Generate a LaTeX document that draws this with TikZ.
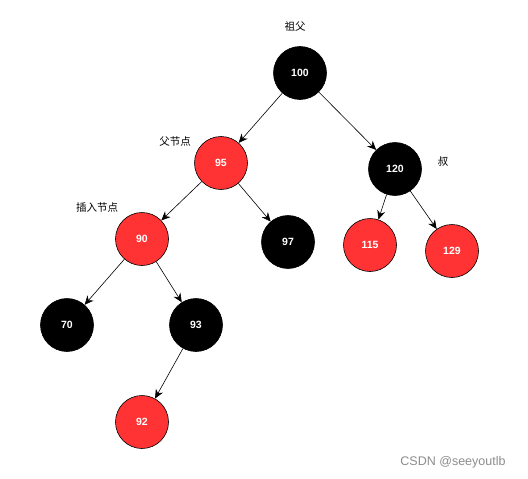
\documentclass[tikz,border=0pt]{standalone}
\usepackage{fontspec}
\setmainfont{Liberation Sans}
\newfontfamily\cjk{Noto Sans CJK SC}
\usetikzlibrary{arrows.meta}
\definecolor{rbred}{HTML}{FF3333}
\begin{document}
\begin{tikzpicture}[x=1pt,y=-1pt,
  rbnode/.style={circle,draw=black,line width=0.6pt,minimum size=53pt,inner sep=0pt,
    text=white,font=\fontsize{10.5}{12}\selectfont\bfseries},
  blk/.style={rbnode,fill=black},
  redn/.style={rbnode,fill=rbred},
  lbl/.style={font=\cjk\fontsize{10.5}{12}\selectfont,text=black},
  edge/.style={draw=black,line width=0.6pt,-{Stealth[length=9pt,width=8pt]}}]
\useasboundingbox (0,0) rectangle (528,479);
\node[blk]  (n100) at (300,73) {100};
\node[redn] (n95)  at (221,163) {95};
\node[blk]  (n120) at (395,169) {120};
\node[redn] (n90)  at (142,239) {90};
\node[blk]  (n97)  at (288,242) {97};
\node[redn] (n115) at (370,245) {115};
\node[redn] (n129) at (452,251) {129};
\node[blk]  (n70)  at (67,325) {70};
\node[blk]  (n93)  at (196,325) {93};
\node[redn] (n92)  at (142,422) {92};
\node[lbl] (l1) at (295,27) {祖父};
\node[lbl] (l2) at (175,142) {父节点};
\node[lbl] (l3) at (443,162) {叔};
\node[lbl] (l4) at (97,208) {插入节点};
\draw[edge] (n100) -- (n95);
\draw[edge] (n100) -- (n120);
\draw[edge] (n95) -- (n90);
\draw[edge] (n95) -- (n97);
\draw[edge] (n120) -- (n115);
\draw[edge] (n120) -- (n129);
\draw[edge] (n90) -- (n70);
\draw[edge] (n90) -- (n93);
\draw[edge] (n93) -- (n92);
\node[text=black!45,font=\fontsize{12.5}{14}\selectfont] (wm) at (453,462) {CSDN @seeyoutlb};
\end{tikzpicture}
\end{document}
